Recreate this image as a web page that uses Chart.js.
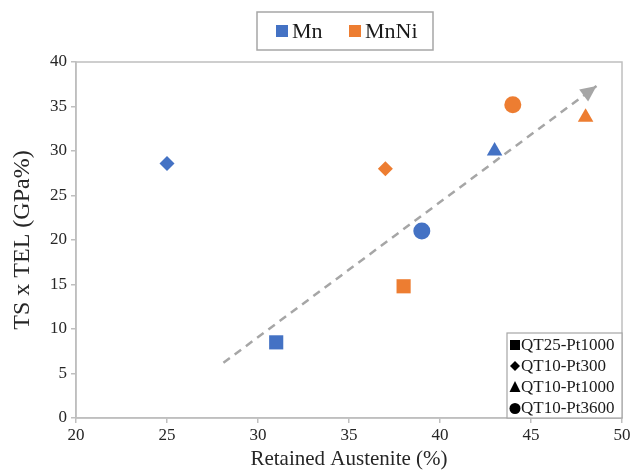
<!DOCTYPE html>
<html><head><meta charset="utf-8">
<script src="https://cdn.jsdelivr.net/npm/chart.js@4/dist/chart.umd.min.js"></script>
<style>html,body{margin:0;padding:0;background:#fff}#wrap{width:633px;height:476px;position:relative}</style>
</head><body><div id="wrap"><canvas id="c" width="633" height="476"></canvas></div>
<script>
const conditions = ['QT25-Pt1000', 'QT10-Pt300', 'QT10-Pt1000', 'QT10-Pt3600'];
const markerStyles = ['rect', 'rectRot', 'triangle', 'circle'];
const seriesNames = ['Mn', 'MnNi'];
const mnX = [31, 25, 43, 39];
const mnY = [8.5, 28.6, 30, 21];
const mnNiX = [38, 37, 48, 44];
const mnNiY = [14.8, 28, 33.8, 35.2];
const trendX = [28.1, 48.6];
const trendY = [6.2, 37.3];
const xTicks = [20, 25, 30, 35, 40, 45, 50];
const yTicks = [0, 5, 10, 15, 20, 25, 30, 35, 40];

const BLUE = '#4472C4', ORANGE = '#ED7D31', GREY = '#A6A6A6';
const FONT = "'Liberation Serif', 'Times New Roman', serif";
const radii = [10, 7.5, 9, 8.5];

function pts(xs, ys) { return xs.map((x, i) => ({x: x, y: ys[i]})); }

const arrowPlugin = {
  id: 'arrowAndLegends',
  afterDatasetsDraw(chart) {
    const ctx = chart.ctx, xs = chart.scales.x, ys = chart.scales.y, ca = chart.chartArea;
    ctx.save();
    ctx.strokeStyle = '#BFBFBF'; ctx.lineWidth = 1.5;
    ctx.strokeRect(ca.left, ca.top, ca.right - ca.left, ca.bottom - ca.top);
    // arrowhead
    const x1 = xs.getPixelForValue(trendX[0]), y1 = ys.getPixelForValue(trendY[0]);
    const x2 = xs.getPixelForValue(trendX[1]), y2 = ys.getPixelForValue(trendY[1]);
    const ang = Math.atan2(y2 - y1, x2 - x1), L = 16, W = 7.5;
    ctx.fillStyle = GREY;
    ctx.beginPath();
    ctx.moveTo(x2, y2);
    ctx.lineTo(x2 - L * Math.cos(ang) + W * Math.sin(ang), y2 - L * Math.sin(ang) - W * Math.cos(ang));
    ctx.lineTo(x2 - L * Math.cos(ang) - W * Math.sin(ang), y2 - L * Math.sin(ang) + W * Math.cos(ang));
    ctx.closePath(); ctx.fill();

    // top legend
    ctx.strokeStyle = GREY; ctx.lineWidth = 1.5;
    ctx.fillStyle = '#fff';
    ctx.fillRect(257, 12, 176, 38);
    ctx.strokeRect(257, 12, 176, 38);
    ctx.font = '22px ' + FONT; ctx.textBaseline = 'middle'; ctx.textAlign = 'left';
    const cols = [BLUE, ORANGE], lx = [276, 349];
    seriesNames.forEach((n, i) => {
      ctx.fillStyle = cols[i];
      ctx.fillRect(lx[i], 25, 12, 12);
      ctx.fillStyle = '#1a1a1a';
      ctx.fillText(n, lx[i] + 16, 32);
    });

    // marker legend bottom-right
    const bx = 507, by = 333, bw = ca.right - 507, bh = ca.bottom - 333;
    ctx.fillStyle = '#fff';
    ctx.fillRect(bx, by, bw, bh);
    ctx.strokeStyle = GREY; ctx.lineWidth = 1.2;
    ctx.strokeRect(bx, by, bw, bh);
    ctx.font = '17px ' + FONT;
    conditions.forEach((c, i) => {
      const cy = by + 12 + i * 21;
      const mx = bx + 8;
      ctx.fillStyle = '#000';
      ctx.beginPath();
      if (markerStyles[i] === 'rect') ctx.rect(mx - 5, cy - 5, 10, 10);
      else if (markerStyles[i] === 'rectRot') { ctx.moveTo(mx, cy - 5); ctx.lineTo(mx + 5, cy); ctx.lineTo(mx, cy + 5); ctx.lineTo(mx - 5, cy); ctx.closePath(); }
      else if (markerStyles[i] === 'triangle') { ctx.moveTo(mx, cy - 6); ctx.lineTo(mx + 5.5, cy + 5); ctx.lineTo(mx - 5.5, cy + 5); ctx.closePath(); }
      else ctx.arc(mx, cy + 0.5, 5.5, 0, Math.PI * 2);
      ctx.fill();
      ctx.fillStyle = '#1a1a1a';
      ctx.fillText(c, mx + 6, cy + 1);
    });
    ctx.restore();
  }
};

new Chart(document.getElementById('c'), {
  type: 'scatter',
  data: {
    datasets: [
      {label: 'trend', data: pts(trendX, trendY), showLine: true, borderColor: GREY, borderWidth: 2.5,
       borderDash: [8, 6], pointRadius: 0, pointHoverRadius: 0, fill: false, order: 2},
      {label: seriesNames[0], data: pts(mnX, mnY), backgroundColor: BLUE, borderColor: BLUE,
       pointStyle: markerStyles, pointRadius: radii, borderWidth: 0, order: 1},
      {label: seriesNames[1], data: pts(mnNiX, mnNiY), backgroundColor: ORANGE, borderColor: ORANGE,
       pointStyle: markerStyles, pointRadius: radii, borderWidth: 0, order: 1}
    ]
  },
  options: {
    responsive: false, animation: false,
    layout: {padding: {top: 62, right: 11, left: 0, bottom: 0}},
    plugins: {legend: {display: false}, tooltip: {enabled: false}},
    scales: {
      x: {
        type: 'linear', min: 20, max: 50,
        afterBuildTicks: (s) => { s.ticks = xTicks.map(v => ({value: v})); },
        afterFit: (s) => { s.height = 58; },
        grid: {drawOnChartArea: false, drawTicks: true, tickLength: 5, color: '#BFBFBF', lineWidth: 1.5},
        border: {color: '#BFBFBF', width: 1.5},
        ticks: {color: '#262626', font: {family: FONT, size: 17}, padding: 2, maxRotation: 0},
        title: {display: true, text: 'Retained Austenite (%)', color: '#262626', font: {family: FONT, size: 21}, padding: {top: 0}}
      },
      y: {
        type: 'linear', min: 0, max: 40,
        afterBuildTicks: (s) => { s.ticks = yTicks.map(v => ({value: v})); },
        afterFit: (s) => { s.width = 76; },
        grid: {drawOnChartArea: false, drawTicks: true, tickLength: 5, color: '#BFBFBF', lineWidth: 1.5},
        border: {color: '#BFBFBF', width: 1.5},
        ticks: {color: '#262626', font: {family: FONT, size: 17}, padding: 4},
        title: {display: true, text: 'TS x TEL (GPa%)', color: '#262626', font: {family: FONT, size: 24}, padding: {top: 8, bottom: 4}}
      }
    }
  },
  plugins: [arrowPlugin]
});
</script></body></html>
